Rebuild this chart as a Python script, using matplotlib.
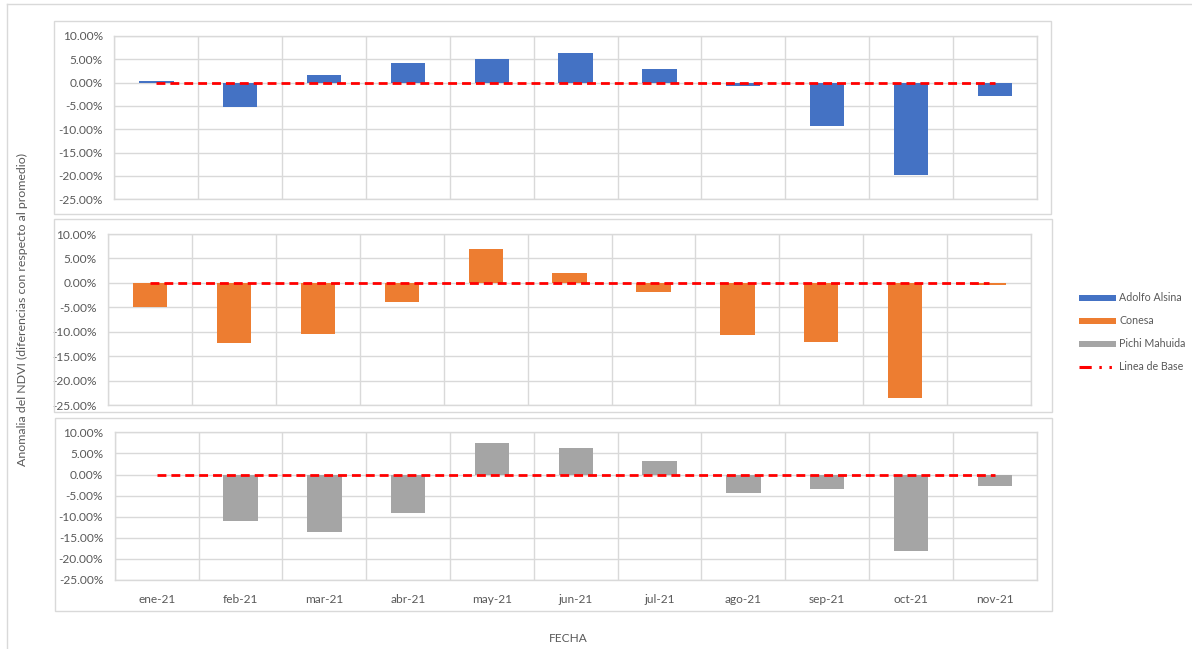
import matplotlib
matplotlib.use("Agg")
import matplotlib.pyplot as plt
from matplotlib.ticker import FixedLocator, FuncFormatter
from matplotlib.lines import Line2D
from matplotlib.patches import Rectangle

# ---------------- data ----------------
months = ["ene-21", "feb-21", "mar-21", "abr-21", "may-21", "jun-21",
          "jul-21", "ago-21", "sep-21", "oct-21", "nov-21"]
adolfo_alsina = [0.4, -5.3, 1.7, 4.2, 5.0, 6.3, 3.0, -0.7, -9.2, -19.7, -2.9]
conesa = [-5.0, -12.35, -10.4, -4.0, 7.0, 2.1, -1.8, -10.6, -12.1, -23.5, -0.4]
pichi_mahuida = [-0.2, -11.0, -13.65, -9.1, 7.35, 6.25, 3.25, -4.5, -3.5, -18.1, -2.75]
linea_base = [0.0] * len(months)
series_names = ["Adolfo Alsina", "Conesa", "Pichi Mahuida"]
y_ticks = [10, 5, 0, -5, -10, -15, -20, -25]
x_label = "FECHA"
y_label = "Anomalia del NDVI (diferencias con respecto al promedio)"
base_label = "Linea de Base"

# ---------------- style ----------------
colors = ["#4472C4", "#ED7D31", "#A5A5A5"]
grid_c = "#D9D9D9"
text_c = "#595959"
FONT = ["Lato", "DejaVu Sans"]
plt.rcParams["font.family"] = FONT

W, H = 1192, 649
fig = plt.figure(figsize=(W / 100, H / 100), dpi=100)


def px_axes(l, t, r, b):
    return fig.add_axes([l / W, 1 - b / H, (r - l) / W, (b - t) / H])


def px_rect(l, t, r, b):
    rect = Rectangle((l / W, 1 - b / H), (r - l) / W, (b - t) / H,
                     transform=fig.transFigure, fill=False,
                     edgecolor=grid_c, linewidth=1.0, zorder=0)
    fig.patches.append(rect)


# outer border lines
fig.add_artist(Line2D([7.3 / W, 1.0], [1 - 4.3 / H, 1 - 4.3 / H],
                      transform=fig.transFigure, color=grid_c, lw=1.0))
fig.add_artist(Line2D([7.3 / W, 7.3 / W], [1 - 4.3 / H, 0.0],
                      transform=fig.transFigure, color=grid_c, lw=1.0))

# panel boxes
px_rect(53.5, 21, 1051, 214.3)
px_rect(54, 219, 1052, 412.3)
px_rect(54.5, 418.3, 1052, 610.7)

axes_px = [
    (114.5, 36, 1036.7, 199.3),
    (108.3, 234, 1031, 405),
    (114.8, 432.3, 1036.7, 580),
]
data = [adolfo_alsina, conesa, pichi_mahuida]
x = list(range(len(months)))

bar_handles = []
for i, (pos, vals) in enumerate(zip(axes_px, data)):
    ax = px_axes(*pos)
    bars = ax.bar(x, vals, width=0.41, color=colors[i], zorder=2,
                  label=series_names[i])
    bar_handles.append(bars)
    ax.plot(x, linea_base, color="#FF0000", lw=2.0,
            linestyle=(0, (3.2, 1.8)), zorder=3, label=base_label)
    ax.set_xlim(-0.5, len(months) - 0.5)
    ax.set_ylim(-25, 10)
    ax.yaxis.set_major_locator(FixedLocator(y_ticks))
    ax.yaxis.set_major_formatter(FuncFormatter(lambda v, p: f"{v:.2f}%"))
    ax.set_xticks(x)
    ax.set_xticks([k - 0.5 for k in range(len(months) + 1)], minor=True)
    ax.grid(True, which="major", axis="y", color=grid_c, lw=1.0, zorder=0)
    ax.grid(True, which="minor", axis="x", color=grid_c, lw=1.0, zorder=0)
    ax.grid(False, which="major", axis="x")
    ax.set_axisbelow(True)
    for s in ax.spines.values():
        s.set_color(grid_c)
        s.set_linewidth(1.0)
    ax.tick_params(axis="both", which="both", length=0, colors=text_c,
                   labelsize=8.6, pad=8.4)
    if i < 2:
        ax.set_xticklabels([])
    else:
        ax.set_xticklabels(months)
        ax.tick_params(axis="x", pad=10)

# axis titles
fig.text(568 / W, 1 - 638 / H, x_label, ha="center", va="center",
         fontsize=8.6, color=text_c)
fig.text(22 / W, 1 - 310 / H, y_label, ha="center", va="center",
         rotation=90, fontsize=8.9, color=text_c)

# legend
base_proxy = Line2D([], [], color="#FF0000", lw=2.2,
                    linestyle=(0, (4, 2.5, 0.8, 2.5, 0.8, 2.5)))
leg = fig.legend(handles=bar_handles + [base_proxy],
                 labels=series_names + [base_label],
                 loc="upper left", bbox_to_anchor=(1072 / W, 1 - 285 / H),
                 frameon=False, fontsize=7.7, labelcolor=text_c,
                 handlelength=3.4, handleheight=0.45, labelspacing=1.12,
                 handletextpad=0.3, borderpad=0.2)

fig.savefig("out.png", dpi=100, facecolor="white")
